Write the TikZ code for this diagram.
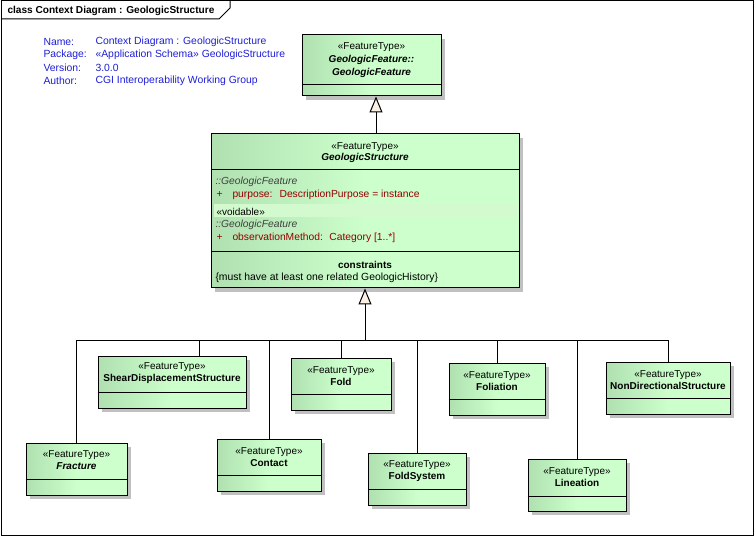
\documentclass[tikz,border=0pt]{standalone}
\usepackage{fontspec}
\setmainfont{Liberation Sans}
\usetikzlibrary{arrows.meta,shadows}
\definecolor{eagreen}{RGB}{204,255,204}
\definecolor{eadark}{RGB}{176,224,176}
\definecolor{eashadow}{RGB}{192,192,192}
\definecolor{eablue}{RGB}{30,30,215}
\definecolor{eared}{RGB}{150,0,0}
\definecolor{eacream}{RGB}{250,240,228}
\definecolor{eavoid}{RGB}{210,250,206}
\newcommand\ftstereo[1]{{\fontsize{10}{12}\selectfont«#1»}}
\begin{document}
\begin{tikzpicture}[x=1pt,y=-1pt,line width=1pt,
  every node/.style={inner sep=0pt,font=\fontsize{10}{12}\selectfont},
  ftbox/.style={draw,left color=eadark,right color=eagreen,middle color=eagreen,
    drop shadow={shadow xshift=4pt,shadow yshift=-4pt,fill=eashadow,opacity=1},
    minimum height=52pt},
  ftname/.style={align=center,anchor=center},
  info/.style={anchor=west,text=eablue,font=\fontsize{10.4}{12}\selectfont},
  attr/.style={anchor=west,text=eared,font=\fontsize{10.3}{12}\selectfont},
  inh/.style={anchor=west,text=black!75,font=\fontsize{10.3}{12}\selectfont\itshape},
  genline/.style={-{Triangle[length=16pt,width=13pt,fill=eacream,line width=1pt]}}]
\useasboundingbox (0,0) rectangle (755,537);
\draw (1,1) rectangle (753.5,535.5);
\draw (1,19) -- (219,19) -- (230,8) -- (230,1);
\node[anchor=west,font=\fontsize{10.1}{12}\selectfont\bfseries] (title) at (7,11) {class Context Diagram : GeologicStructure};

\node[info] (k1) at (43,42) {Name:};
\node[info] (k2) at (43,55) {Package:};
\node[info] (k3) at (43,68) {Version:};
\node[info] (k4) at (43,81) {Author:};
\node[info] (v1) at (95,42) {Context Diagram : GeologicStructure};
\node[info] (v2) at (95,55) {«Application Schema» GeologicStructure};
\node[info] (v3) at (95,68) {3.0.0};
\node[info] (v4) at (95,81) {CGI Interoperability Working Group};

\node[ftbox,minimum width=139pt,minimum height=61pt] (gfeat) at (371.5,65.5) {};
\draw ([yshift=-50pt]gfeat.north west) -- ([yshift=-50pt]gfeat.north east);
\node[ftname,font=\fontsize{10}{13}\selectfont] (gfeatname) at (371.5,60) {\ftstereo{FeatureType}\\\textbf{\textit{GeologicFeature::}}\\\textbf{\textit{GeologicFeature}}};

\node[ftbox,minimum width=308pt,minimum height=154pt] (gstruct) at (365,211) {};
\draw ([yshift=-36pt]gstruct.north west) -- ([yshift=-36pt]gstruct.north east);
\draw ([yshift=-118pt]gstruct.north west) -- ([yshift=-118pt]gstruct.north east);
\fill[eavoid] (213.5,204) rectangle (516.5,217);
\node[ftname,font=\fontsize{10}{11}\selectfont] (gstructname) at (365,152.5) {\ftstereo{FeatureType}\\\textbf{\textit{GeologicStructure}}};
\node[inh] (inh1) at (215,181.5) {::GeologicFeature};
\node[attr] (plus1) at (216,194.5) {+};
\node[attr] (purpose) at (232,194.5) {purpose:\hspace{7pt}DescriptionPurpose = instance};
\node[anchor=west] (voidable) at (216,211.5) {«voidable»};
\node[inh] (inh2) at (215,224.5) {::GeologicFeature};
\node[attr] (plus2) at (216,238) {+};
\node[attr] (obsmethod) at (232,238) {observationMethod:\hspace{6.5pt}Category [1..*]};
\node[font=\fontsize{10}{12}\selectfont\bfseries] (constraints) at (365,264.5) {constraints};
\node[anchor=west,font=\fontsize{10.4}{12}\selectfont] (rule) at (215,278) {\{must have at least one related GeologicHistory\}};

\node[ftbox,minimum width=101pt] (fracture) at (76.5,469) {};
\draw ([yshift=-37pt]fracture.north west) -- ([yshift=-37pt]fracture.north east);
\node[ftname] at ([yshift=-18pt]fracture.north) {\ftstereo{FeatureType}\\\textbf{\textit{Fracture}}};

\node[ftbox,minimum width=148pt] (shear) at (172,382) {};
\draw ([yshift=-37pt]shear.north west) -- ([yshift=-37pt]shear.north east);
\node[ftname] at ([yshift=-18pt]shear.north) {\ftstereo{FeatureType}\\\textbf{ShearDisplacementStructure}};

\node[ftbox,minimum width=104pt] (contact) at (269,465) {};
\draw ([yshift=-37pt]contact.north west) -- ([yshift=-37pt]contact.north east);
\node[ftname] at ([yshift=-19pt]contact.north) {\ftstereo{FeatureType}\\\textbf{Contact}};

\node[ftbox,minimum width=100pt] (fold) at (341,384) {};
\draw ([yshift=-37pt]fold.north west) -- ([yshift=-37pt]fold.north east);
\node[ftname] at ([yshift=-19pt]fold.north) {\ftstereo{FeatureType}\\\textbf{Fold}};

\node[ftbox,minimum width=98pt] (foldsystem) at (417,479) {};
\draw ([yshift=-37pt]foldsystem.north west) -- ([yshift=-37pt]foldsystem.north east);
\node[ftname] at ([yshift=-19pt]foldsystem.north) {\ftstereo{FeatureType}\\\textbf{FoldSystem}};

\node[ftbox,minimum width=96pt] (foliation) at (497,389) {};
\draw ([yshift=-37pt]foliation.north west) -- ([yshift=-37pt]foliation.north east);
\node[ftname] at ([yshift=-19pt]foliation.north) {\ftstereo{FeatureType}\\\textbf{Foliation}};

\node[ftbox,minimum width=98pt] (lineation) at (577,485) {};
\draw ([yshift=-38pt]lineation.north west) -- ([yshift=-38pt]lineation.north east);
\node[ftname] at ([yshift=-19pt]lineation.north) {\ftstereo{FeatureType}\\\textbf{Lineation}};

\node[ftbox,minimum width=124pt] (nondir) at (668,388) {};
\draw ([yshift=-37pt]nondir.north west) -- ([yshift=-37pt]nondir.north east);
\node[ftname] at ([yshift=-19pt]nondir.north) {\ftstereo{FeatureType}\\\textbf{NonDirectionalStructure}};

\draw[genline] ([xshift=11pt]gstruct.north) -- ([xshift=4.5pt]gfeat.south);
\coordinate (bus) at (365,340);
\draw[genline] (bus) -- (gstruct.south);
\draw (bus) -| (fracture.north);
\draw (bus) -| ([xshift=27pt]shear.north);
\draw (bus) -| (contact.north);
\draw (bus) -| (fold.north);
\draw (bus) -| (foldsystem.north);
\draw (bus) -| (foliation.north);
\draw (bus) -| (lineation.north);
\draw (bus) -| (nondir.north);
\end{tikzpicture}
\end{document}
